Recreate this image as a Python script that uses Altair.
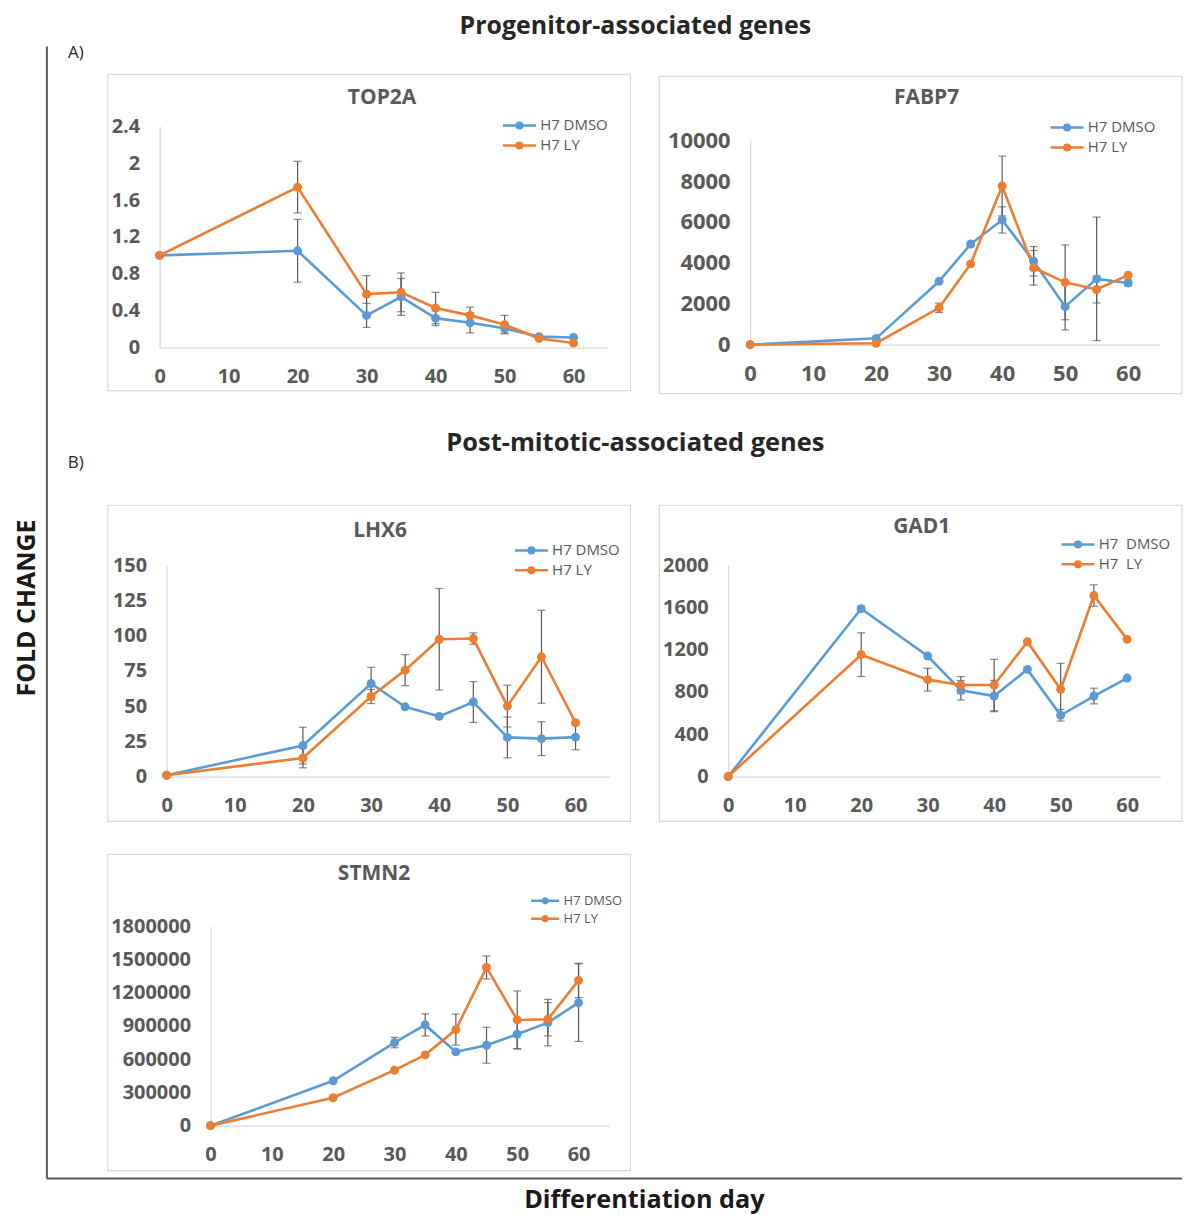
import altair as alt
import pandas as pd

# ---------------- data ----------------
days = [0, 20, 30, 35, 40, 45, 50, 55, 60]
day_ticks = [0, 10, 20, 30, 40, 50, 60]

top2a_dmso = [1.0, 1.05, 0.35, 0.55, 0.32, 0.27, 0.21, 0.12, 0.11]
top2a_dmso_err = [0, 0.34, 0.13, 0.20, 0.08, 0.11, 0.05, 0, 0]
top2a_ly = [1.0, 1.74, 0.58, 0.60, 0.43, 0.35, 0.25, 0.10, 0.05]
top2a_ly_err = [0, 0.28, 0.20, 0.21, 0.17, 0.09, 0.10, 0, 0]
top2a_ticks = [0, 0.4, 0.8, 1.2, 1.6, 2, 2.4]

fabp7_dmso = [0, 310, 3100, 4920, 6100, 4080, 1860, 3220, 3020]
fabp7_dmso_err = [0, 0, 0, 100, 640, 720, 1140, 3020, 150]
fabp7_ly = [0, 70, 1800, 3950, 7760, 3760, 3050, 2700, 3400]
fabp7_ly_err = [0, 0, 230, 0, 1460, 845, 1830, 660, 0]
fabp7_ticks = [0, 2000, 4000, 6000, 8000, 10000]

lhx6_dmso = [1, 22, 66, 49.5, 42.7, 52.9, 27.8, 26.9, 28]
lhx6_dmso_err = [0, 13, 11.5, 0, 0, 14.5, 14.5, 12, 9]
lhx6_ly = [1, 13.2, 56.8, 75.5, 97.4, 97.9, 50, 85, 38.2]
lhx6_ly_err = [0, 7, 5, 11, 36, 4, 14.8, 33, 0]
lhx6_ticks = [0, 25, 50, 75, 100, 125, 150]

gad1_dmso = [0, 1588, 1140, 816, 762, 1014, 580, 762, 932]
gad1_dmso_err = [0, 25, 0, 92, 148, 0, 55, 74, 0]
gad1_ly = [0, 1153, 917, 866, 866, 1276, 825, 1712, 1298]
gad1_ly_err = [0, 207, 108, 80, 243, 0, 246, 102, 0]
gad1_ticks = [0, 400, 800, 1200, 1600, 2000]

stmn2_dmso = [0, 405000, 750000, 909000, 666000, 726000, 825000, 930000, 1110000]
stmn2_dmso_err = [0, 0, 47000, 100000, 0, 162000, 130000, 210000, 350000]
stmn2_ly = [0, 252000, 501000, 639000, 867000, 1428000, 954000, 960000, 1311000]
stmn2_ly_err = [0, 0, 0, 0, 140000, 104000, 262000, 150000, 155000]
stmn2_ticks = [0, 300000, 600000, 900000, 1200000, 1500000, 1800000]

series_labels = ["H7 DMSO", "H7 LY"]
series_labels_gad1 = ["H7\u00a0 DMSO", "H7\u00a0 LY"]

COLORS = ["#5B9BD5", "#ED7D31"]
AXIS_GRAY = "#595959"
FONT = "Open Sans"

# ---------------- layout (page pixels) ----------------
CELL_W, CELL_H = 590, 400
COL_X = [8, 598]
ROW_Y = [8, 408, 808]

# legend symbol: line twice as wide as the nominal symbol box, dot in the middle
SYMBOL = ("M-2,0H2M0.34,0A0.34,0.34,0,1,1,-0.34,0A0.34,0.34,0,1,1,0.34,0"
          "M0.14,0A0.14,0.14,0,1,1,-0.14,0A0.14,0.14,0,1,1,0.14,0")

one = pd.DataFrame({"k": [0]})


def text_layer(txt, x, y, size, weight="bold", color="#262626", angle=0, align="center"):
    kw = dict(text=txt, font=FONT, fontSize=size, fontWeight=weight, color=color,
              align=align, baseline="middle")
    if angle:
        kw["angle"] = angle
    return alt.Chart(one).mark_text(**kw).encode(x=alt.value(x), y=alt.value(y))


def panel(title, dmso, dmso_err, ly, ly_err, labels, yticks, ymax, col, row,
          box, x0, x60, y0, ytop, title_xy, legend_xy, label_size=20,
          legend_size=15, sym_w=33, extra=None):
    ox, oy = COL_X[col], ROW_Y[row]
    ppd = (x60 - x0) / 60.0
    xr = [x0 - ox, x0 - ox + 65 * ppd]
    yr = [y0 - oy, ytop - oy]

    df = pd.DataFrame({
        "day": days * 2,
        "value": dmso + ly,
        "err": dmso_err + ly_err,
        "series": [labels[0]] * len(days) + [labels[1]] * len(days),
    })
    df["lo"] = df["value"] - df["err"]
    df["hi"] = df["value"] + df["err"]
    dfe = df[df["err"] > 0]
    caps = pd.concat([
        dfe[["day", "lo"]].rename(columns={"lo": "cap"}),
        dfe[["day", "hi"]].rename(columns={"hi": "cap"}),
    ])

    xaxis = alt.Axis(values=day_ticks, offset=yr[0] - CELL_H, ticks=False, grid=False,
                     domainColor="#d9d9d9", domainWidth=1.2, labelFont=FONT,
                     labelFontWeight="bold", labelColor=AXIS_GRAY,
                     labelFontSize=label_size, labelPadding=19, title=None,
                     labelFlush=False, labelOverlap=False)
    yaxis = alt.Axis(values=yticks, offset=-xr[0], ticks=False, grid=False,
                     domainColor="#d9d9d9", domainWidth=1.2, labelFont=FONT,
                     labelFontWeight="bold", labelColor=AXIS_GRAY,
                     labelFontSize=label_size, labelPadding=20, title=None,
                     labelFlush=False, labelOverlap=False,
                     labelExpr="'' + datum.value")
    xs = alt.Scale(domain=[0, 65], range=xr, nice=False, zero=False)
    ys = alt.Scale(domain=[0, ymax], range=yr, nice=False)

    def X():
        return alt.X("day:Q", scale=xs, axis=xaxis)

    def Y(field):
        return alt.Y(field + ":Q", scale=ys, axis=yaxis)

    bx = alt.Chart(one).mark_rect(fill="transparent", stroke="#d9d9d9", strokeWidth=1.2).encode(
        x=alt.value(box[0] - ox), x2=alt.value(box[1] - ox),
        y=alt.value(box[2] - oy), y2=alt.value(box[3] - oy))

    rules = alt.Chart(dfe).mark_rule(color=AXIS_GRAY, strokeWidth=1.2).encode(
        x=X(), y=Y("lo"), y2="hi:Q")
    capm = alt.Chart(caps).mark_tick(orient="horizontal", size=8, thickness=1.2,
                                    color=AXIS_GRAY).encode(x=X(), y=Y("cap"))

    h = sym_w / 2.0
    legend = alt.Legend(orient="none", legendX=legend_xy[0] - ox + h / 2,
                        legendY=legend_xy[1] - oy - h / 2,
                        title=None, symbolType=SYMBOL, symbolSize=h * h,
                        symbolStrokeWidth=2.5, labelFont=FONT, labelFontSize=legend_size,
                        labelColor=AXIS_GRAY, padding=0, labelOffset=0.25 * sym_w + 3,
                        rowPadding=2)
    lines = alt.Chart(df).mark_line(
        strokeWidth=2.6,
        point=alt.OverlayMarkDef(filled=True, size=80, opacity=1),
    ).encode(
        x=X(), y=Y("value"),
        color=alt.Color("series:N", scale=alt.Scale(domain=labels, range=COLORS),
                        legend=legend),
    )

    ttl = text_layer(title, title_xy[0] - ox, title_xy[1] - oy, 21, color=AXIS_GRAY)

    layers = [bx, rules, capm, lines, ttl]
    if extra:
        layers += extra(ox, oy)
    return alt.layer(*layers).properties(width=CELL_W, height=CELL_H)


def extra_p1(ox, oy):
    frame_v = alt.Chart(one).mark_rule(color="#595959", strokeWidth=2).encode(
        x=alt.value(47 - ox), y=alt.value(45 - oy), y2=alt.value(1180 - oy))
    frame_h = alt.Chart(one).mark_rule(color="#595959", strokeWidth=2).encode(
        x=alt.value(47 - ox), x2=alt.value(1185 - ox), y=alt.value(1180 - oy))
    return [frame_v, frame_h,
            text_layer("Progenitor-associated genes", 637 - ox, 25 - oy, 25),
            text_layer("A)", 76 - ox, 52 - oy, 17, weight="normal")]


def extra_p3(ox, oy):
    return [text_layer("Post-mitotic-associated genes", 637 - ox, 443 - oy, 25.5),
            text_layer("B)", 76 - ox, 463 - oy, 17, weight="normal"),
            text_layer("FOLD CHANGE", 27.5 - ox, 608 - oy, 25, color="#1a1a1a", angle=270)]


def extra_p5(ox, oy):
    return [text_layer("Differentiation day", 646 - ox, 1202 - oy, 25.3, color="#1a1a1a")]


p1 = panel("TOP2A", top2a_dmso, top2a_dmso_err, top2a_ly, top2a_ly_err, series_labels,
           top2a_ticks, 2.4, 0, 0, box=(108, 632, 73, 390), x0=160, x60=575, y0=347, ytop=125,
           title_xy=(383, 97), legend_xy=(503, 123), extra=extra_p1)
p2 = panel("FABP7", fabp7_dmso, fabp7_dmso_err, fabp7_ly, fabp7_ly_err, series_labels,
           fabp7_ticks, 10000, 1, 0, box=(661, 1185, 75, 393), x0=752, x60=1131, y0=344, ytop=139,
           title_xy=(929, 97), legend_xy=(1052, 125), label_size=22)
p3 = panel("LHX6", lhx6_dmso, lhx6_dmso_err, lhx6_ly, lhx6_ly_err, series_labels,
           lhx6_ticks, 150, 0, 1, box=(108, 632, 505, 822), x0=167, x60=577, y0=777, ytop=565,
           title_xy=(381, 531), legend_xy=(515, 549), extra=extra_p3)
p4 = panel("GAD1", gad1_dmso, gad1_dmso_err, gad1_ly, gad1_ly_err, series_labels_gad1,
           gad1_ticks, 2000, 1, 1, box=(661, 1185, 505, 822), x0=730, x60=1130, y0=777, ytop=565,
           title_xy=(924, 527), legend_xy=(1063, 543))
p5 = panel("STMN2", stmn2_dmso, stmn2_dmso_err, stmn2_ly, stmn2_ly_err, series_labels,
           stmn2_ticks, 1800000, 0, 2, box=(108, 632, 855, 1172), x0=211, x60=580, y0=1127, ytop=927,
           title_xy=(375, 875), legend_xy=(531, 900), legend_size=13, sym_w=28,
           extra=extra_p5)

chart = alt.concat(p1, p2, p3, p4, p5, columns=2, spacing=0, bounds="flush").resolve_scale(
    color="independent", x="independent", y="independent"
).properties(padding=0, background="white").configure_view(strokeWidth=0, stroke="transparent")

chart.save("out.html", embed_options={"renderer": "svg", "actions": False})
